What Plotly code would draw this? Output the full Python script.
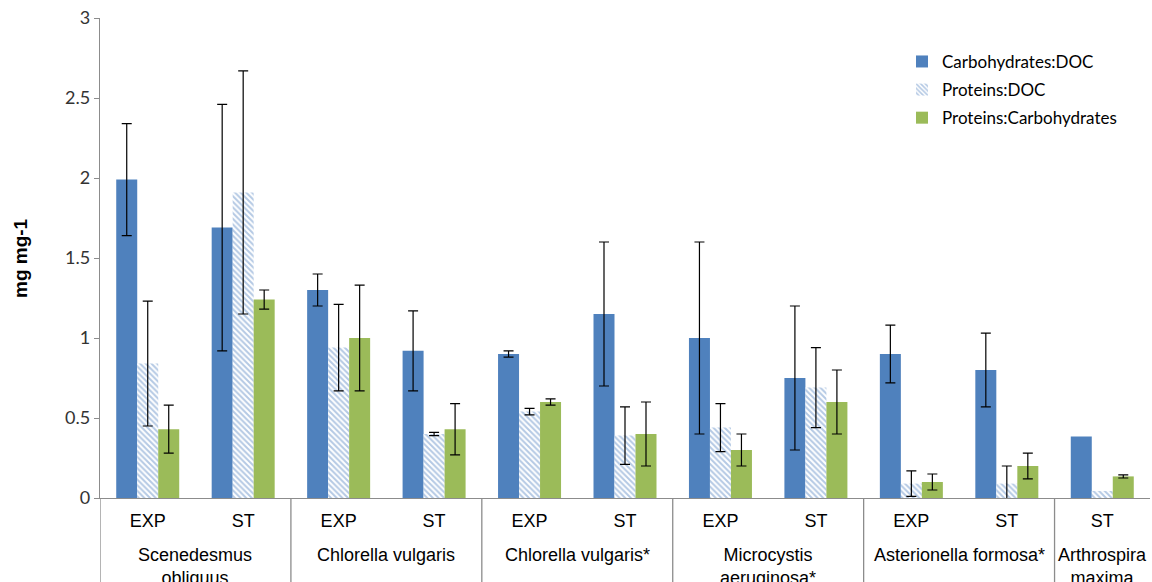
import numpy as np
import plotly.graph_objects as go

# Sub-category (growth phase) labels, one per bar cluster
phases = ["EXP", "ST", "EXP", "ST", "EXP", "ST", "EXP", "ST", "EXP", "ST", "ST"]

# Species groups and how many phases each one spans
species = ["Scenedesmus<br>obliquus", "Chlorella vulgaris", "Chlorella vulgaris*",
           "Microcystis<br>aeruginosa*", "Asterionella formosa*", "Arthrospira<br>maxima"]
species_sizes = [2, 2, 2, 2, 2, 1]

# Ratios (mg mg-1) and their error bars (None = no error bar)
carb_doc = [1.99, 1.69, 1.30, 0.92, 0.90, 1.15, 1.00, 0.75, 0.90, 0.80, 0.385]
carb_doc_err = [0.35, 0.77, 0.10, 0.25, 0.02, 0.45, 0.60, 0.45, 0.18, 0.23, None]
prot_doc = [0.84, 1.91, 0.94, 0.40, 0.54, 0.39, 0.44, 0.69, 0.09, 0.09, 0.044]
prot_doc_err = [0.39, 0.76, 0.27, 0.01, 0.02, 0.18, 0.15, 0.25, 0.08, 0.11, None]
prot_carb = [0.43, 1.24, 1.00, 0.43, 0.60, 0.40, 0.30, 0.60, 0.10, 0.20, 0.135]
prot_carb_err = [0.15, 0.06, 0.33, 0.16, 0.02, 0.20, 0.10, 0.20, 0.05, 0.08, 0.01]

y_ticks = [0, 0.5, 1, 1.5, 2, 2.5, 3]

BLUE = "#4F81BD"
GREEN = "#9BBB59"
AXIS = "#8C8C8C"
CAL = "Lato, 'Open Sans', sans-serif"
ARIAL = "'Liberation Sans', Arial, sans-serif"

xs = list(range(len(phases)))


def err(vals):
    # NaN entries are skipped by plotly.js, so those bars get no whisker
    arr = np.array([np.nan if v is None else v for v in vals], dtype=float)
    return dict(type="data", array=arr, visible=True, color="#000000",
                thickness=1.2, width=5)


fig = go.Figure()
fig.add_trace(go.Bar(
    x=xs, y=carb_doc, name="Carbohydrates:DOC", legendgroup="a",
    marker=dict(color=BLUE, line=dict(width=0)), error_y=err(carb_doc_err)))
fig.add_trace(go.Bar(
    x=xs, y=prot_doc, name="Proteins:DOC", legendgroup="b",
    marker=dict(color="white", line=dict(width=0),
                pattern=dict(shape="\\", fgcolor="#6a93c9", bgcolor="white",
                             size=4, solidity=0.5)),
    error_y=err(prot_doc_err)))
fig.add_trace(go.Bar(
    x=xs, y=prot_carb, name="Proteins:Carbohydrates", legendgroup="c",
    marker=dict(color=GREEN, line=dict(width=0)), error_y=err(prot_carb_err)))

# Species labels under the phase labels, plus vertical dividers between groups
annotations = []
shapes = []
start = 0
for name, size in zip(species, species_sizes):
    center = start + (size - 1) / 2
    annotations.append(dict(
        x=center, y=-0.094, xref="x", yref="paper", text=name, showarrow=False,
        xanchor="center", yanchor="top", font=dict(family=ARIAL, size=18, color="#000")))
    shapes.append(dict(type="line", xref="x", yref="paper", x0=start - 0.5, x1=start - 0.5,
                       y0=0, y1=-0.2, line=dict(color=AXIS, width=1.3)))
    start += size

# y-axis title
annotations.append(dict(
    x=-80 / 1050, y=0.5, xref="paper", yref="paper", text="<b>mg mg-1</b>",
    textangle=-90, showarrow=False, xanchor="center", yanchor="middle",
    font=dict(family=ARIAL, size=19, color="#000")))

fig.update_layout(
    width=1152, height=582,
    margin=dict(l=100, r=2, t=18, b=84),
    paper_bgcolor="white", plot_bgcolor="white",
    barmode="group", bargap=0.34, bargroupgap=0,
    showlegend=True,
    legend=dict(x=0.7638, y=0.946, xanchor="left", yanchor="top",
                font=dict(family=CAL, size=17, color="#000"),
                tracegroupgap=3, itemwidth=30, bgcolor="rgba(0,0,0,0)"),
    annotations=annotations,
    shapes=shapes,
    xaxis=dict(range=[-0.5, len(phases) - 0.5], tickmode="array", tickvals=xs,
               ticktext=phases, showline=True, linecolor=AXIS, linewidth=1.3,
               ticks="outside", ticklen=6, tickcolor="rgba(0,0,0,0)",
               tickfont=dict(family=ARIAL, size=18, color="#000"),
               showgrid=False, zeroline=False, fixedrange=True),
    yaxis=dict(range=[0, 3], tickmode="array", tickvals=y_ticks,
               ticktext=[f"{v:g}" for v in y_ticks],
               showline=True, linecolor=AXIS, linewidth=1.3,
               ticks="outside", ticklen=5, tickcolor=AXIS,
               tickfont=dict(family=CAL, size=18, color="#333"),
               showgrid=False, zeroline=False, fixedrange=True),
)

fig.write_html("out.html")
